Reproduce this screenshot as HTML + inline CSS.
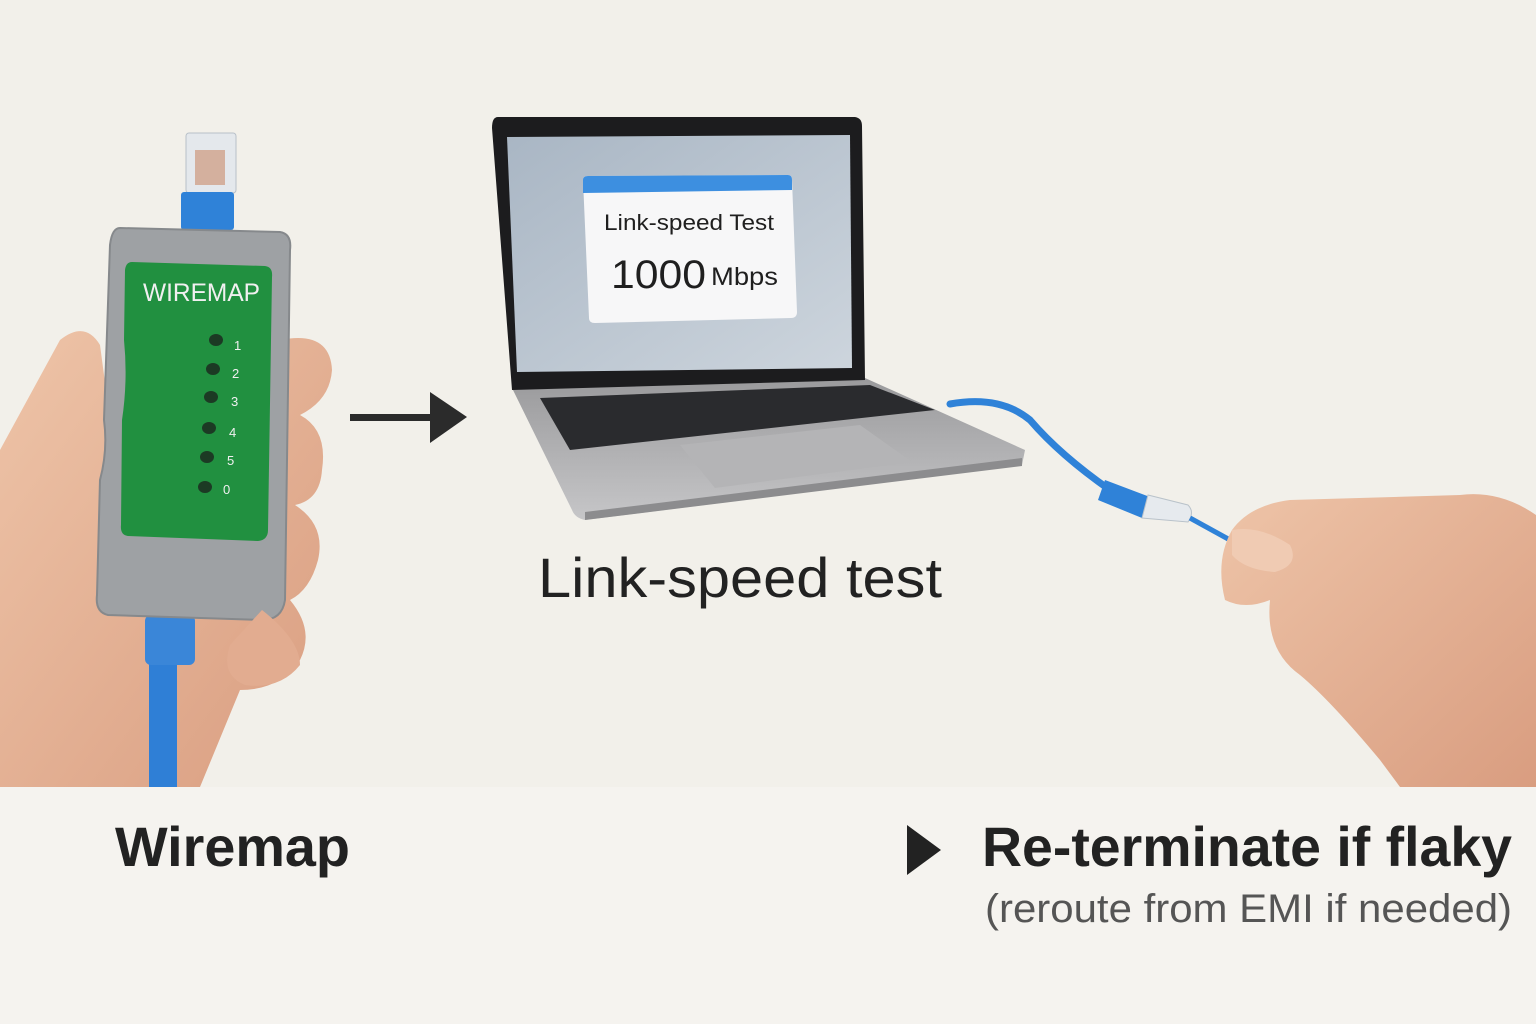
<!DOCTYPE html>
<html><head><meta charset="utf-8"><style>
html,body{margin:0;padding:0;background:#f3f1ec;}
svg{display:block}
text{font-family:"Liberation Sans","DejaVu Sans",sans-serif}
</style></head><body>
<svg width="1536" height="1024" viewBox="0 0 1536 1024" xmlns="http://www.w3.org/2000/svg">
<defs>
<linearGradient id="scr" x1="0" y1="0" x2="1" y2="1"><stop offset="0" stop-color="#a9b6c4"/><stop offset="1" stop-color="#cdd5dd"/></linearGradient>
<linearGradient id="skin" x1="0" y1="0" x2="1" y2="1"><stop offset="0" stop-color="#eec4a8"/><stop offset="1" stop-color="#d99d80"/></linearGradient>
<linearGradient id="base" x1="0" y1="0" x2="0" y2="1"><stop offset="0" stop-color="#9a9a9c"/><stop offset="1" stop-color="#c6c6c8"/></linearGradient>
</defs>
<rect width="1536" height="787" fill="#f2f0ea"/>
<rect y="787" width="1536" height="237" fill="#f5f3ef"/>

<!-- left hand -->
<path d="M0 450 L60 340 Q85 320 100 345 L110 420 L280 340 Q330 330 332 370 Q330 400 300 415 Q328 430 322 470 Q320 500 295 505 Q326 525 318 560 Q310 590 290 600 Q315 630 300 660 Q280 690 240 690 L200 787 L0 787 Z" fill="url(#skin)"/>
<!-- cable -->
<rect x="149" y="630" width="28" height="157" fill="#2f7fd6"/>
<rect x="145" y="615" width="50" height="50" rx="6" fill="#3a86d8"/>
<!-- plug -->
<rect x="186" y="133" width="50" height="60" rx="3" fill="#e4e8ec" stroke="#b8c0c8"/>
<rect x="195" y="150" width="30" height="35" fill="#c98a6a" opacity=".6"/>
<rect x="181" y="192" width="53" height="38" rx="3" fill="#2f82d8"/>
<!-- body -->
<path d="M120 228 L280 232 Q292 234 290 250 L285 600 Q282 620 262 620 L108 615 Q95 612 97 595 L100 480 Q108 450 104 420 L110 245 Q112 228 120 228 Z" fill="#9ea1a4" stroke="#86898c" stroke-width="2"/>
<path d="M132 262 L265 266 Q273 267 272 277 L268 530 Q268 540 258 541 L128 536 Q120 535 121 525 L122 420 Q128 380 124 340 L125 270 Q126 262 132 262Z" fill="#219040"/>
<text x="143" y="301" font-size="25" fill="#f0f0f0" textLength="117" lengthAdjust="spacingAndGlyphs">WIREMAP</text>
<g fill="#1c3a24"><ellipse cx="216" cy="340" rx="7" ry="6"/><ellipse cx="213" cy="369" rx="7" ry="6"/><ellipse cx="211" cy="397" rx="7" ry="6"/><ellipse cx="209" cy="428" rx="7" ry="6"/><ellipse cx="207" cy="457" rx="7" ry="6"/><ellipse cx="205" cy="487" rx="7" ry="6"/></g>
<g fill="#f0f0f0" font-size="13"><text x="234" y="350">1</text><text x="232" y="378">2</text><text x="231" y="406">3</text><text x="229" y="437">4</text><text x="227" y="465">5</text><text x="223" y="494">0</text></g>
<!-- fingers over -->
<path d="M262 610 Q300 640 300 665 Q280 690 245 685 Q220 675 230 645 Z" fill="#e2ac90"/>

<!-- arrow -->
<rect x="350" y="414" width="85" height="7" fill="#2b2b2b"/>
<polygon points="430,392 467,417 430,443" fill="#2b2b2b"/>

<!-- laptop -->
<path d="M512 388 L865 378 L1025 450 L1022 465 L585 520 Q575 518 572 510 Z" fill="url(#base)"/>
<path d="M540 398 L870 385 L935 410 L570 450 Z" fill="#2a2b2e"/>
<path d="M680 445 L860 425 L912 462 L715 488 Z" fill="#b4b4b6"/>
<path d="M585 512 L1022 458 L1022 466 L585 520 Z" fill="#8c8c8e"/>
<path d="M498 117 L855 117 Q862 118 862 126 L865 380 L512 390 L492 128 Q492 117 498 117 Z" fill="#1c1c1e"/>
<path d="M507 137 L850 135 L852 368 L517 372 Z" fill="url(#scr)"/>
<path d="M583 180 Q583 176 588 176 L788 175 Q792 175 792 180 L797 312 Q797 318 791 318 L595 323 Q589 323 589 318 Z" fill="#f7f7f8"/>
<path d="M583 180 Q583 176 588 176 L788 175 Q792 175 792 180 L792 190 L583 193 Z" fill="#3d8fe0"/>
<text x="604" y="230" font-size="22" fill="#1f1f1f" textLength="170" lengthAdjust="spacingAndGlyphs">Link-speed Test</text>
<text x="611" y="288" font-size="40" fill="#1f1f1f" textLength="95" lengthAdjust="spacingAndGlyphs">1000</text>
<text x="711" y="285" font-size="25" fill="#1f1f1f" textLength="67" lengthAdjust="spacingAndGlyphs">Mbps</text>

<!-- cable right -->
<path d="M950 404 Q1000 395 1030 420 Q1060 455 1110 490" stroke="#2f82d8" stroke-width="7" fill="none" stroke-linecap="round"/>
<path d="M1105 480 L1150 497 L1142 518 L1098 500 Z" fill="#2f82d8"/>
<path d="M1148 495 L1188 505 Q1195 512 1188 522 L1142 518 Z" fill="#e6eaee" stroke="#b9c2ca"/>
<path d="M1190 518 L1230 540" stroke="#2f82d8" stroke-width="5"/>

<!-- right hand -->
<path d="M1536 515 Q1500 490 1460 495 L1290 500 Q1250 505 1232 530 Q1215 560 1225 600 Q1245 610 1270 600 Q1265 650 1300 675 Q1330 700 1380 760 L1400 787 L1536 787 Z" fill="url(#skin)"/>
<path d="M1232 530 Q1260 525 1290 545 Q1300 565 1275 572 Q1245 570 1232 555 Z" fill="#f0cbb3"/>

<!-- labels -->
<text x="538" y="597" font-size="56" fill="#222" textLength="404" lengthAdjust="spacingAndGlyphs">Link-speed test</text>
<text x="115" y="866" font-size="56" font-weight="bold" fill="#222" textLength="235" lengthAdjust="spacingAndGlyphs">Wiremap</text>
<polygon points="907,825 941,850 907,875" fill="#222"/>
<text x="982" y="866" font-size="56" font-weight="bold" fill="#222" textLength="530" lengthAdjust="spacingAndGlyphs">Re-terminate if flaky</text>
<text x="985" y="922" font-size="40" fill="#555" textLength="527" lengthAdjust="spacingAndGlyphs">(reroute from EMI if needed)</text>
</svg>
</body></html>
